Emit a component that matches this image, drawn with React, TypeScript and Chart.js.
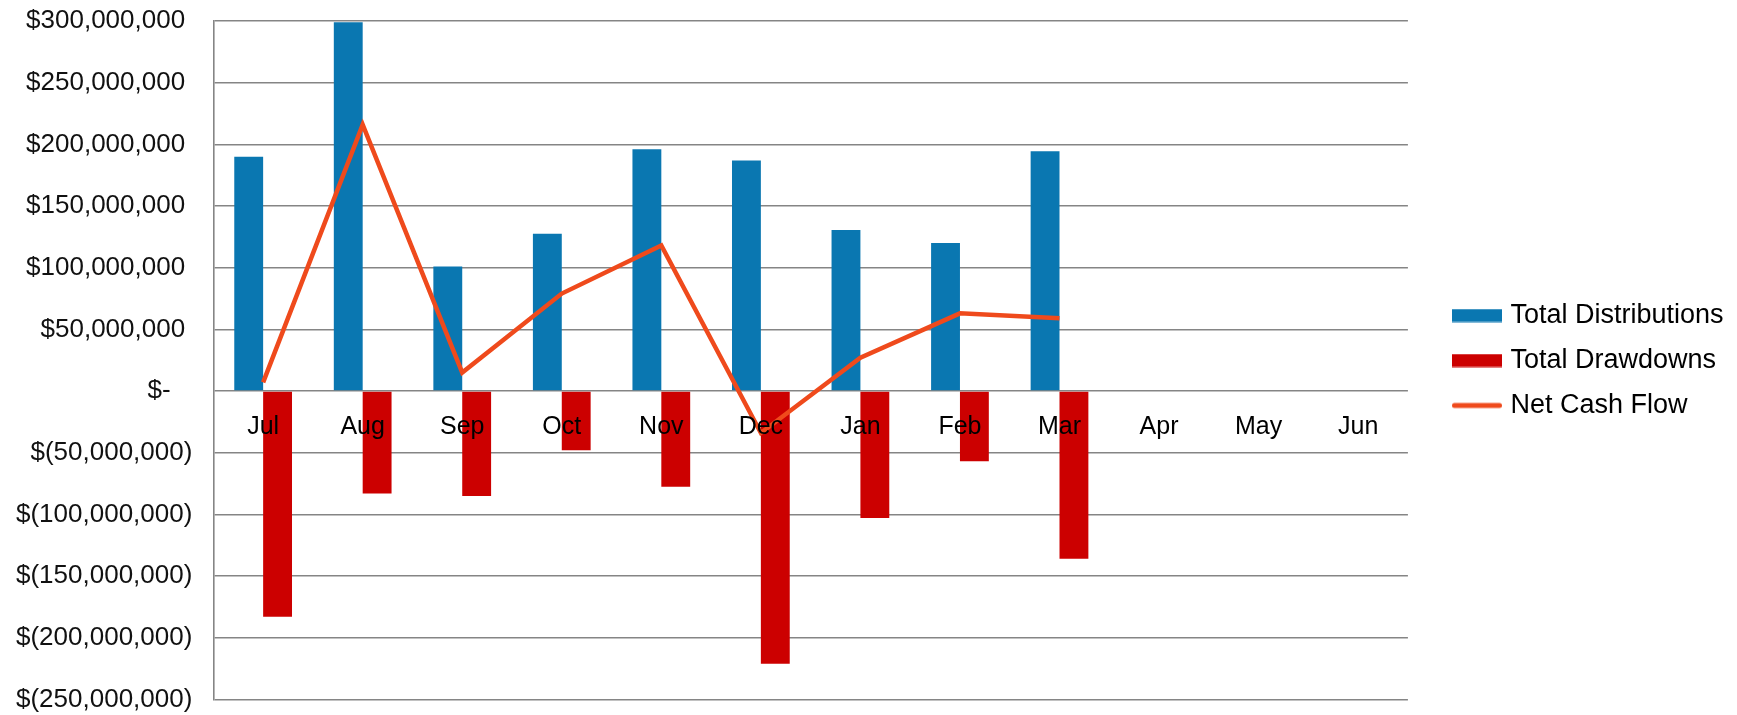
import { useEffect, useRef } from 'react';
import { Chart, registerables } from 'chart.js';

Chart.register(...registerables);

const months = ['Jul', 'Aug', 'Sep', 'Oct', 'Nov', 'Dec', 'Jan', 'Feb', 'Mar', 'Apr', 'May', 'Jun'];
const totalDistributions = [190_000_000, 299_000_000, 101_000_000, 127_500_000, 196_000_000, 187_000_000, 130_500_000, 120_000_000, 194_500_000, null, null, null];
const totalDrawdowns = [-183_000_000, -83_000_000, -85_000_000, -48_000_000, -77_500_000, -221_000_000, -103_000_000, -57_000_000, -136_000_000, null, null, null];
const netCashFlow = [7_000_000, 216_000_000, 15_000_000, 79_000_000, 118_000_000, -34_000_000, 27_000_000, 63_000_000, 59_000_000, null, null, null];
const yTickValues = [-250_000_000, -200_000_000, -150_000_000, -100_000_000, -50_000_000, 0, 50_000_000, 100_000_000, 150_000_000, 200_000_000, 250_000_000, 300_000_000];

const BLUE = '#0a77b1';
const RED = '#cc0000';
const ORANGE = '#ef4a1c';
const GRID = '#858585';
const FONT = '"Liberation Sans", Arial, sans-serif';

function formatAccounting(v: number): string {
  if (v === 0) return '$-   ';
  const s = Math.abs(v).toLocaleString('en-US');
  return v < 0 ? `$(${s})` : `$${s} `;
}

function makeIcon(color: string, w: number, h: number, line: boolean): HTMLCanvasElement {
  const c = document.createElement('canvas');
  c.width = w;
  c.height = 14;
  const ctx = c.getContext('2d')!;
  if (line) {
    ctx.strokeStyle = color;
    ctx.lineWidth = h;
    ctx.lineCap = 'round';
    ctx.beginPath();
    ctx.moveTo(h / 2, 7);
    ctx.lineTo(w - h / 2, 7);
    ctx.stroke();
  } else {
    ctx.fillStyle = color;
    ctx.fillRect(0, (14 - h) / 2, w, h);
  }
  return c;
}

export default function App() {
  const ref = useRef<HTMLCanvasElement | null>(null);

  useEffect(() => {
    if (!ref.current) return;
    const icons = [makeIcon(BLUE, 50, 13, false), makeIcon(RED, 50, 13, false), makeIcon(ORANGE, 50, 5, true)];
    const chart = new Chart(ref.current, {
      type: 'bar',
      data: {
        labels: months,
        datasets: [
          {
            type: 'bar',
            label: 'Total Distributions',
            data: totalDistributions,
            backgroundColor: BLUE,
            borderWidth: 0,
            categoryPercentage: 0.58,
            barPercentage: 1.0,
            order: 1,
          },
          {
            type: 'bar',
            label: 'Total Drawdowns',
            data: totalDrawdowns,
            backgroundColor: RED,
            borderWidth: 0,
            categoryPercentage: 0.58,
            barPercentage: 1.0,
            order: 2,
          },
          {
            type: 'line',
            label: 'Net Cash Flow',
            data: netCashFlow,
            borderColor: ORANGE,
            backgroundColor: ORANGE,
            borderWidth: 4.5,
            pointRadius: 0,
            tension: 0,
            borderJoinStyle: 'miter',
            fill: false,
            order: 0,
          },
        ],
      } as any,
      options: {
        animation: false,
        responsive: false,
        maintainAspectRatio: false,
        layout: { padding: { left: 16, top: 21, right: 13.5, bottom: 15 } },
        plugins: {
          tooltip: { enabled: false },
          legend: {
            position: 'right',
            labels: {
              usePointStyle: true,
              pointStyleWidth: 40,
              boxWidth: 40,
              boxHeight: 14,
              padding: 18,
              color: '#000',
              font: { family: FONT, size: 27 },
              sort: (a: any, b: any) => a.datasetIndex - b.datasetIndex,
              generateLabels: (c: any) => {
                const items = (Chart.defaults.plugins.legend.labels as any).generateLabels(c);
                items.forEach((it: any) => {
                  it.pointStyle = icons[it.datasetIndex];
                });
                return items;
              },
            },
          },
        },
        scales: {
          x: {
            type: 'category',
            position: { y: 0 } as any,
            grid: { display: false },
            border: { display: false },
            ticks: {
              z: 1,
              color: '#000',
              padding: 13,
              font: { family: FONT, size: 25 },
              maxRotation: 0,
              autoSkip: false,
            },
          },
          y: {
            type: 'linear',
            position: 'left',
            min: -250_000_000,
            max: 300_000_000,
            afterBuildTicks: (scale: any) => {
              scale.ticks = yTickValues.map((v) => ({ value: v }));
            },
            grid: { color: GRID, lineWidth: 1.6, drawTicks: true, tickLength: 21, tickColor: 'rgba(0,0,0,0)' },
            border: { display: true, color: GRID, width: 1.6 },
            ticks: {
              color: '#111',
              padding: 0,
              font: { family: FONT, size: 26 },
              callback: (v: any) => formatAccounting(Number(v)),
            },
          },
          y2: {
            type: 'linear',
            position: 'right',
            display: true,
            grid: { display: false },
            border: { display: false },
            ticks: { display: false },
            afterFit: (scale: any) => {
              scale.width = 31;
            },
          },
        },
      } as any,
    });
    return () => chart.destroy();
  }, []);

  return (
    <div style={{ position: 'absolute', left: 0, top: 0, width: 1737, height: 715, background: '#fff' }}>
      <canvas ref={ref} width={1737} height={715} style={{ display: 'block' }} />
    </div>
  );
}
